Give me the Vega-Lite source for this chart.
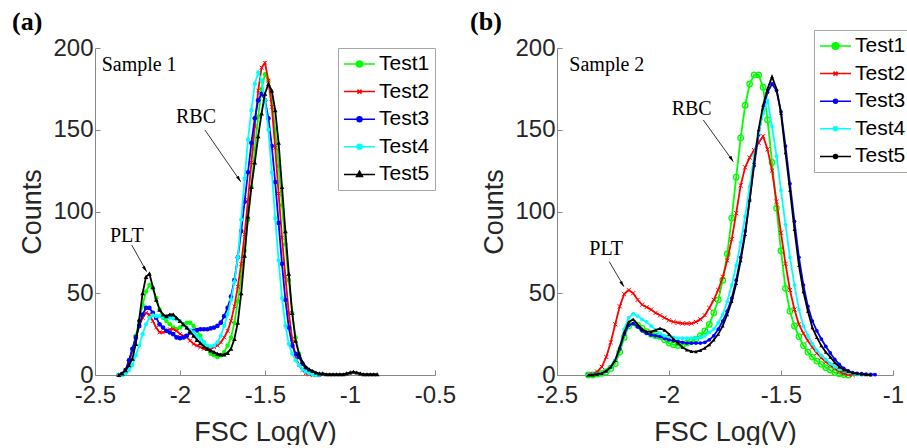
{
"$schema": "https://vega.github.io/schema/vega-lite/v6.json",
"background": "white",
"padding": {"left": 12, "top": 9, "right": 0, "bottom": 0},
"config": {
  "font": "Liberation Sans",
  "view": {"stroke": null},
  "axis": {"grid": false, "domainColor": "#888888", "tickColor": "#888888", "tickSize": -5, "domainWidth": 1, "tickWidth": 1, "labelFont": "Liberation Sans", "labelFontSize": 24, "labelColor": "#262626", "labelPadding": 13, "titleFont": "Liberation Sans", "titleFontSize": 27, "titleFontWeight": "normal", "titleColor": "#262626", "labelOverlap": false},
  "axisY": {"labelPadding": 7, "titlePadding": 6},
  "axisX": {"titlePadding": 12, "labelFlush": false}
},
"resolve": {"scale": {"color": "independent", "x": "independent", "y": "independent"}, "legend": {"color": "independent"}},
"datasets": {
"a": [
{"s":"Test1","x":-2.36,"y":0},{"s":"Test1","x":-2.34,"y":0.5},{"s":"Test1","x":-2.32,"y":2},{"s":"Test1","x":-2.30,"y":7},{"s":"Test1","x":-2.28,"y":15},{"s":"Test1","x":-2.26,"y":24},{"s":"Test1","x":-2.24,"y":33},{"s":"Test1","x":-2.22,"y":43},{"s":"Test1","x":-2.20,"y":51},{"s":"Test1","x":-2.18,"y":55},{"s":"Test1","x":-2.16,"y":53},{"s":"Test1","x":-2.14,"y":47},{"s":"Test1","x":-2.12,"y":40},{"s":"Test1","x":-2.10,"y":35},{"s":"Test1","x":-2.08,"y":33},{"s":"Test1","x":-2.06,"y":31},{"s":"Test1","x":-2.04,"y":29},{"s":"Test1","x":-2.02,"y":28},{"s":"Test1","x":-2.00,"y":29},{"s":"Test1","x":-1.98,"y":31},{"s":"Test1","x":-1.96,"y":32},{"s":"Test1","x":-1.94,"y":32},{"s":"Test1","x":-1.92,"y":30},{"s":"Test1","x":-1.90,"y":27},{"s":"Test1","x":-1.88,"y":24},{"s":"Test1","x":-1.86,"y":20},{"s":"Test1","x":-1.84,"y":16},{"s":"Test1","x":-1.82,"y":13},{"s":"Test1","x":-1.80,"y":12},{"s":"Test1","x":-1.78,"y":11},{"s":"Test1","x":-1.76,"y":12},{"s":"Test1","x":-1.74,"y":14},{"s":"Test1","x":-1.72,"y":18},{"s":"Test1","x":-1.70,"y":23},{"s":"Test1","x":-1.68,"y":32},{"s":"Test1","x":-1.66,"y":45},{"s":"Test1","x":-1.64,"y":60},{"s":"Test1","x":-1.62,"y":76},{"s":"Test1","x":-1.60,"y":95},{"s":"Test1","x":-1.58,"y":115},{"s":"Test1","x":-1.56,"y":138},{"s":"Test1","x":-1.54,"y":158},{"s":"Test1","x":-1.52,"y":175},{"s":"Test1","x":-1.50,"y":184},{"s":"Test1","x":-1.48,"y":180},{"s":"Test1","x":-1.46,"y":168},{"s":"Test1","x":-1.44,"y":150},{"s":"Test1","x":-1.42,"y":128},{"s":"Test1","x":-1.40,"y":104},{"s":"Test1","x":-1.38,"y":80},{"s":"Test1","x":-1.36,"y":58},{"s":"Test1","x":-1.34,"y":38},{"s":"Test1","x":-1.32,"y":23},{"s":"Test1","x":-1.30,"y":13},{"s":"Test1","x":-1.28,"y":7},{"s":"Test1","x":-1.26,"y":3.5},{"s":"Test1","x":-1.24,"y":1.5},{"s":"Test1","x":-1.22,"y":0.5},{"s":"Test1","x":-1.20,"y":0},
{"s":"Test2","x":-2.36,"y":0},{"s":"Test2","x":-2.34,"y":0.5},{"s":"Test2","x":-2.32,"y":3},{"s":"Test2","x":-2.30,"y":8},{"s":"Test2","x":-2.28,"y":15},{"s":"Test2","x":-2.26,"y":23},{"s":"Test2","x":-2.24,"y":30},{"s":"Test2","x":-2.22,"y":35},{"s":"Test2","x":-2.20,"y":38},{"s":"Test2","x":-2.18,"y":37},{"s":"Test2","x":-2.16,"y":33},{"s":"Test2","x":-2.14,"y":29},{"s":"Test2","x":-2.12,"y":26},{"s":"Test2","x":-2.10,"y":26},{"s":"Test2","x":-2.08,"y":27},{"s":"Test2","x":-2.06,"y":28},{"s":"Test2","x":-2.04,"y":28},{"s":"Test2","x":-2.02,"y":27},{"s":"Test2","x":-2.00,"y":25},{"s":"Test2","x":-1.98,"y":24},{"s":"Test2","x":-1.96,"y":23},{"s":"Test2","x":-1.94,"y":21},{"s":"Test2","x":-1.92,"y":19},{"s":"Test2","x":-1.90,"y":18},{"s":"Test2","x":-1.88,"y":17},{"s":"Test2","x":-1.86,"y":16},{"s":"Test2","x":-1.84,"y":16},{"s":"Test2","x":-1.82,"y":16},{"s":"Test2","x":-1.80,"y":17},{"s":"Test2","x":-1.78,"y":18},{"s":"Test2","x":-1.76,"y":20},{"s":"Test2","x":-1.74,"y":23},{"s":"Test2","x":-1.72,"y":27},{"s":"Test2","x":-1.70,"y":33},{"s":"Test2","x":-1.68,"y":42},{"s":"Test2","x":-1.66,"y":54},{"s":"Test2","x":-1.64,"y":68},{"s":"Test2","x":-1.62,"y":86},{"s":"Test2","x":-1.60,"y":107},{"s":"Test2","x":-1.58,"y":130},{"s":"Test2","x":-1.56,"y":152},{"s":"Test2","x":-1.54,"y":174},{"s":"Test2","x":-1.52,"y":188},{"s":"Test2","x":-1.50,"y":191},{"s":"Test2","x":-1.48,"y":180},{"s":"Test2","x":-1.46,"y":164},{"s":"Test2","x":-1.44,"y":139},{"s":"Test2","x":-1.42,"y":111},{"s":"Test2","x":-1.40,"y":84},{"s":"Test2","x":-1.38,"y":60},{"s":"Test2","x":-1.36,"y":38},{"s":"Test2","x":-1.34,"y":22},{"s":"Test2","x":-1.32,"y":11},{"s":"Test2","x":-1.30,"y":6},{"s":"Test2","x":-1.28,"y":3},{"s":"Test2","x":-1.26,"y":1},{"s":"Test2","x":-1.24,"y":0.3},{"s":"Test2","x":-1.22,"y":0},
{"s":"Test3","x":-2.36,"y":0},{"s":"Test3","x":-2.34,"y":0.5},{"s":"Test3","x":-2.32,"y":3},{"s":"Test3","x":-2.30,"y":9},{"s":"Test3","x":-2.28,"y":16},{"s":"Test3","x":-2.26,"y":23},{"s":"Test3","x":-2.24,"y":30},{"s":"Test3","x":-2.22,"y":37},{"s":"Test3","x":-2.20,"y":41},{"s":"Test3","x":-2.18,"y":41},{"s":"Test3","x":-2.16,"y":38},{"s":"Test3","x":-2.14,"y":35},{"s":"Test3","x":-2.12,"y":31},{"s":"Test3","x":-2.10,"y":29},{"s":"Test3","x":-2.08,"y":27},{"s":"Test3","x":-2.06,"y":26},{"s":"Test3","x":-2.04,"y":25},{"s":"Test3","x":-2.02,"y":23},{"s":"Test3","x":-2.00,"y":22.5},{"s":"Test3","x":-1.98,"y":23},{"s":"Test3","x":-1.96,"y":24},{"s":"Test3","x":-1.94,"y":26},{"s":"Test3","x":-1.92,"y":27},{"s":"Test3","x":-1.90,"y":27.5},{"s":"Test3","x":-1.88,"y":28},{"s":"Test3","x":-1.86,"y":28},{"s":"Test3","x":-1.84,"y":28},{"s":"Test3","x":-1.82,"y":28.5},{"s":"Test3","x":-1.80,"y":29},{"s":"Test3","x":-1.78,"y":30},{"s":"Test3","x":-1.76,"y":32},{"s":"Test3","x":-1.74,"y":36},{"s":"Test3","x":-1.72,"y":41},{"s":"Test3","x":-1.70,"y":48},{"s":"Test3","x":-1.68,"y":58},{"s":"Test3","x":-1.66,"y":72},{"s":"Test3","x":-1.64,"y":88},{"s":"Test3","x":-1.62,"y":106},{"s":"Test3","x":-1.60,"y":124},{"s":"Test3","x":-1.58,"y":142},{"s":"Test3","x":-1.56,"y":157},{"s":"Test3","x":-1.54,"y":168},{"s":"Test3","x":-1.52,"y":172},{"s":"Test3","x":-1.50,"y":168},{"s":"Test3","x":-1.48,"y":157},{"s":"Test3","x":-1.46,"y":140},{"s":"Test3","x":-1.44,"y":118},{"s":"Test3","x":-1.42,"y":93},{"s":"Test3","x":-1.40,"y":68},{"s":"Test3","x":-1.38,"y":46},{"s":"Test3","x":-1.36,"y":29},{"s":"Test3","x":-1.34,"y":18},{"s":"Test3","x":-1.32,"y":13},{"s":"Test3","x":-1.30,"y":11},{"s":"Test3","x":-1.28,"y":7},{"s":"Test3","x":-1.26,"y":4},{"s":"Test3","x":-1.24,"y":2},{"s":"Test3","x":-1.22,"y":1},{"s":"Test3","x":-1.20,"y":0.5},{"s":"Test3","x":-1.18,"y":0},
{"s":"Test4","x":-2.36,"y":0},{"s":"Test4","x":-2.34,"y":0},{"s":"Test4","x":-2.32,"y":1},{"s":"Test4","x":-2.30,"y":3},{"s":"Test4","x":-2.28,"y":6},{"s":"Test4","x":-2.26,"y":12},{"s":"Test4","x":-2.24,"y":18},{"s":"Test4","x":-2.22,"y":25},{"s":"Test4","x":-2.20,"y":31},{"s":"Test4","x":-2.18,"y":35},{"s":"Test4","x":-2.16,"y":36.5},{"s":"Test4","x":-2.14,"y":36},{"s":"Test4","x":-2.12,"y":36},{"s":"Test4","x":-2.10,"y":35.5},{"s":"Test4","x":-2.08,"y":35},{"s":"Test4","x":-2.06,"y":35},{"s":"Test4","x":-2.04,"y":34.5},{"s":"Test4","x":-2.02,"y":34},{"s":"Test4","x":-2.00,"y":33},{"s":"Test4","x":-1.98,"y":31},{"s":"Test4","x":-1.96,"y":29},{"s":"Test4","x":-1.94,"y":27.5},{"s":"Test4","x":-1.92,"y":26},{"s":"Test4","x":-1.90,"y":24},{"s":"Test4","x":-1.88,"y":22},{"s":"Test4","x":-1.86,"y":20},{"s":"Test4","x":-1.84,"y":18},{"s":"Test4","x":-1.82,"y":17.5},{"s":"Test4","x":-1.80,"y":18},{"s":"Test4","x":-1.78,"y":20},{"s":"Test4","x":-1.76,"y":24},{"s":"Test4","x":-1.74,"y":30},{"s":"Test4","x":-1.72,"y":37},{"s":"Test4","x":-1.70,"y":46},{"s":"Test4","x":-1.68,"y":57},{"s":"Test4","x":-1.66,"y":72},{"s":"Test4","x":-1.64,"y":95},{"s":"Test4","x":-1.62,"y":120},{"s":"Test4","x":-1.60,"y":144},{"s":"Test4","x":-1.58,"y":162},{"s":"Test4","x":-1.56,"y":178},{"s":"Test4","x":-1.54,"y":185},{"s":"Test4","x":-1.52,"y":180},{"s":"Test4","x":-1.50,"y":168},{"s":"Test4","x":-1.48,"y":150},{"s":"Test4","x":-1.46,"y":124},{"s":"Test4","x":-1.44,"y":96},{"s":"Test4","x":-1.42,"y":70},{"s":"Test4","x":-1.40,"y":47},{"s":"Test4","x":-1.38,"y":30},{"s":"Test4","x":-1.36,"y":19},{"s":"Test4","x":-1.34,"y":13},{"s":"Test4","x":-1.32,"y":9},{"s":"Test4","x":-1.30,"y":6},{"s":"Test4","x":-1.28,"y":3.5},{"s":"Test4","x":-1.26,"y":2},{"s":"Test4","x":-1.24,"y":1},{"s":"Test4","x":-1.22,"y":0.5},{"s":"Test4","x":-1.20,"y":0},{"s":"Test4","x":-1.18,"y":0},
{"s":"Test5","x":-2.36,"y":0},{"s":"Test5","x":-2.34,"y":1},{"s":"Test5","x":-2.32,"y":3},{"s":"Test5","x":-2.30,"y":6},{"s":"Test5","x":-2.28,"y":10},{"s":"Test5","x":-2.26,"y":19},{"s":"Test5","x":-2.24,"y":34},{"s":"Test5","x":-2.22,"y":50},{"s":"Test5","x":-2.20,"y":60},{"s":"Test5","x":-2.18,"y":62},{"s":"Test5","x":-2.16,"y":54},{"s":"Test5","x":-2.14,"y":46},{"s":"Test5","x":-2.12,"y":40},{"s":"Test5","x":-2.10,"y":37},{"s":"Test5","x":-2.08,"y":36},{"s":"Test5","x":-2.06,"y":37},{"s":"Test5","x":-2.04,"y":37},{"s":"Test5","x":-2.02,"y":35},{"s":"Test5","x":-2.00,"y":33},{"s":"Test5","x":-1.98,"y":31},{"s":"Test5","x":-1.96,"y":29},{"s":"Test5","x":-1.94,"y":26.5},{"s":"Test5","x":-1.92,"y":24},{"s":"Test5","x":-1.90,"y":21.5},{"s":"Test5","x":-1.88,"y":19.5},{"s":"Test5","x":-1.86,"y":17.5},{"s":"Test5","x":-1.84,"y":16},{"s":"Test5","x":-1.82,"y":15},{"s":"Test5","x":-1.80,"y":14},{"s":"Test5","x":-1.78,"y":13},{"s":"Test5","x":-1.76,"y":12.5},{"s":"Test5","x":-1.74,"y":12.5},{"s":"Test5","x":-1.72,"y":13.5},{"s":"Test5","x":-1.70,"y":16},{"s":"Test5","x":-1.68,"y":22},{"s":"Test5","x":-1.66,"y":32},{"s":"Test5","x":-1.64,"y":50},{"s":"Test5","x":-1.62,"y":73},{"s":"Test5","x":-1.60,"y":97},{"s":"Test5","x":-1.58,"y":115},{"s":"Test5","x":-1.56,"y":130},{"s":"Test5","x":-1.54,"y":146},{"s":"Test5","x":-1.52,"y":160},{"s":"Test5","x":-1.50,"y":172},{"s":"Test5","x":-1.48,"y":178},{"s":"Test5","x":-1.46,"y":174},{"s":"Test5","x":-1.44,"y":162},{"s":"Test5","x":-1.42,"y":142},{"s":"Test5","x":-1.40,"y":115},{"s":"Test5","x":-1.38,"y":88},{"s":"Test5","x":-1.36,"y":62},{"s":"Test5","x":-1.34,"y":38},{"s":"Test5","x":-1.32,"y":21},{"s":"Test5","x":-1.30,"y":13},{"s":"Test5","x":-1.28,"y":8},{"s":"Test5","x":-1.26,"y":5},{"s":"Test5","x":-1.24,"y":3.5},{"s":"Test5","x":-1.22,"y":2.5},{"s":"Test5","x":-1.20,"y":1.5},{"s":"Test5","x":-1.18,"y":1},{"s":"Test5","x":-1.16,"y":1},{"s":"Test5","x":-1.14,"y":0.5},{"s":"Test5","x":-1.12,"y":0.5},{"s":"Test5","x":-1.10,"y":0.5},{"s":"Test5","x":-1.08,"y":0.5},{"s":"Test5","x":-1.06,"y":0.5},{"s":"Test5","x":-1.04,"y":0.5},{"s":"Test5","x":-1.02,"y":1},{"s":"Test5","x":-1.00,"y":1.5},{"s":"Test5","x":-0.98,"y":2},{"s":"Test5","x":-0.96,"y":1.5},{"s":"Test5","x":-0.94,"y":1},{"s":"Test5","x":-0.92,"y":0.5},{"s":"Test5","x":-0.90,"y":0.5},{"s":"Test5","x":-0.88,"y":0.5},{"s":"Test5","x":-0.86,"y":0.5},{"s":"Test5","x":-0.84,"y":0.5}
],
"b": [
{"s":"Test1","x":-2.36,"y":0},{"s":"Test1","x":-2.34,"y":0},{"s":"Test1","x":-2.32,"y":0.5},{"s":"Test1","x":-2.30,"y":1},{"s":"Test1","x":-2.28,"y":2},{"s":"Test1","x":-2.26,"y":4},{"s":"Test1","x":-2.24,"y":7},{"s":"Test1","x":-2.22,"y":14},{"s":"Test1","x":-2.20,"y":23},{"s":"Test1","x":-2.18,"y":30},{"s":"Test1","x":-2.16,"y":32},{"s":"Test1","x":-2.14,"y":30.5},{"s":"Test1","x":-2.12,"y":28.5},{"s":"Test1","x":-2.10,"y":26.5},{"s":"Test1","x":-2.08,"y":25},{"s":"Test1","x":-2.06,"y":24},{"s":"Test1","x":-2.04,"y":23.5},{"s":"Test1","x":-2.02,"y":21.5},{"s":"Test1","x":-2.00,"y":19.5},{"s":"Test1","x":-1.98,"y":18.5},{"s":"Test1","x":-1.96,"y":18},{"s":"Test1","x":-1.94,"y":18.5},{"s":"Test1","x":-1.92,"y":19.5},{"s":"Test1","x":-1.90,"y":20.5},{"s":"Test1","x":-1.88,"y":22},{"s":"Test1","x":-1.86,"y":24},{"s":"Test1","x":-1.84,"y":27},{"s":"Test1","x":-1.82,"y":31},{"s":"Test1","x":-1.80,"y":38},{"s":"Test1","x":-1.78,"y":46},{"s":"Test1","x":-1.76,"y":58},{"s":"Test1","x":-1.74,"y":74},{"s":"Test1","x":-1.72,"y":96},{"s":"Test1","x":-1.70,"y":121},{"s":"Test1","x":-1.68,"y":145},{"s":"Test1","x":-1.66,"y":165},{"s":"Test1","x":-1.64,"y":178},{"s":"Test1","x":-1.62,"y":183.5},{"s":"Test1","x":-1.60,"y":183.5},{"s":"Test1","x":-1.58,"y":176},{"s":"Test1","x":-1.56,"y":156},{"s":"Test1","x":-1.54,"y":130},{"s":"Test1","x":-1.52,"y":102},{"s":"Test1","x":-1.50,"y":76},{"s":"Test1","x":-1.48,"y":53},{"s":"Test1","x":-1.46,"y":39},{"s":"Test1","x":-1.44,"y":30},{"s":"Test1","x":-1.42,"y":23.5},{"s":"Test1","x":-1.40,"y":18},{"s":"Test1","x":-1.38,"y":14},{"s":"Test1","x":-1.36,"y":11},{"s":"Test1","x":-1.34,"y":8.5},{"s":"Test1","x":-1.32,"y":6.5},{"s":"Test1","x":-1.30,"y":4.5},{"s":"Test1","x":-1.28,"y":3},{"s":"Test1","x":-1.26,"y":1.5},{"s":"Test1","x":-1.24,"y":0.8},{"s":"Test1","x":-1.22,"y":0.3},{"s":"Test1","x":-1.20,"y":0},
{"s":"Test2","x":-2.36,"y":0},{"s":"Test2","x":-2.34,"y":0.5},{"s":"Test2","x":-2.32,"y":2},{"s":"Test2","x":-2.30,"y":5},{"s":"Test2","x":-2.28,"y":11},{"s":"Test2","x":-2.26,"y":20},{"s":"Test2","x":-2.24,"y":31},{"s":"Test2","x":-2.22,"y":42},{"s":"Test2","x":-2.20,"y":49.5},{"s":"Test2","x":-2.18,"y":52},{"s":"Test2","x":-2.16,"y":50},{"s":"Test2","x":-2.14,"y":46},{"s":"Test2","x":-2.12,"y":43},{"s":"Test2","x":-2.10,"y":41.5},{"s":"Test2","x":-2.08,"y":40},{"s":"Test2","x":-2.06,"y":38},{"s":"Test2","x":-2.04,"y":36.5},{"s":"Test2","x":-2.02,"y":35},{"s":"Test2","x":-2.00,"y":33.5},{"s":"Test2","x":-1.98,"y":32.5},{"s":"Test2","x":-1.96,"y":32},{"s":"Test2","x":-1.94,"y":31.5},{"s":"Test2","x":-1.92,"y":31.5},{"s":"Test2","x":-1.90,"y":31.5},{"s":"Test2","x":-1.88,"y":32.5},{"s":"Test2","x":-1.86,"y":34},{"s":"Test2","x":-1.84,"y":36.5},{"s":"Test2","x":-1.82,"y":41},{"s":"Test2","x":-1.80,"y":46},{"s":"Test2","x":-1.78,"y":52},{"s":"Test2","x":-1.76,"y":60},{"s":"Test2","x":-1.74,"y":70},{"s":"Test2","x":-1.72,"y":83},{"s":"Test2","x":-1.70,"y":99},{"s":"Test2","x":-1.68,"y":116},{"s":"Test2","x":-1.66,"y":127},{"s":"Test2","x":-1.64,"y":133},{"s":"Test2","x":-1.62,"y":137.5},{"s":"Test2","x":-1.60,"y":142},{"s":"Test2","x":-1.58,"y":146},{"s":"Test2","x":-1.56,"y":138},{"s":"Test2","x":-1.54,"y":125},{"s":"Test2","x":-1.52,"y":106},{"s":"Test2","x":-1.50,"y":87},{"s":"Test2","x":-1.48,"y":68},{"s":"Test2","x":-1.46,"y":52},{"s":"Test2","x":-1.44,"y":40},{"s":"Test2","x":-1.42,"y":31},{"s":"Test2","x":-1.40,"y":25.5},{"s":"Test2","x":-1.38,"y":21},{"s":"Test2","x":-1.36,"y":17},{"s":"Test2","x":-1.34,"y":13.3},{"s":"Test2","x":-1.32,"y":10.5},{"s":"Test2","x":-1.30,"y":8},{"s":"Test2","x":-1.28,"y":6},{"s":"Test2","x":-1.26,"y":4},{"s":"Test2","x":-1.24,"y":2.2},{"s":"Test2","x":-1.22,"y":1},{"s":"Test2","x":-1.20,"y":0.3},{"s":"Test2","x":-1.18,"y":0},
{"s":"Test3","x":-2.36,"y":0},{"s":"Test3","x":-2.34,"y":0},{"s":"Test3","x":-2.32,"y":0.5},{"s":"Test3","x":-2.30,"y":1},{"s":"Test3","x":-2.28,"y":2.5},{"s":"Test3","x":-2.26,"y":5},{"s":"Test3","x":-2.24,"y":9},{"s":"Test3","x":-2.22,"y":16},{"s":"Test3","x":-2.20,"y":25},{"s":"Test3","x":-2.18,"y":30.5},{"s":"Test3","x":-2.16,"y":31.5},{"s":"Test3","x":-2.14,"y":29.5},{"s":"Test3","x":-2.12,"y":27},{"s":"Test3","x":-2.10,"y":25.5},{"s":"Test3","x":-2.08,"y":24.5},{"s":"Test3","x":-2.06,"y":24},{"s":"Test3","x":-2.04,"y":23.5},{"s":"Test3","x":-2.02,"y":22.5},{"s":"Test3","x":-2.00,"y":21.5},{"s":"Test3","x":-1.98,"y":21},{"s":"Test3","x":-1.96,"y":20.5},{"s":"Test3","x":-1.94,"y":20},{"s":"Test3","x":-1.92,"y":19.5},{"s":"Test3","x":-1.90,"y":19.5},{"s":"Test3","x":-1.88,"y":19.5},{"s":"Test3","x":-1.86,"y":19.5},{"s":"Test3","x":-1.84,"y":20},{"s":"Test3","x":-1.82,"y":21.5},{"s":"Test3","x":-1.80,"y":24},{"s":"Test3","x":-1.78,"y":28},{"s":"Test3","x":-1.76,"y":33},{"s":"Test3","x":-1.74,"y":39},{"s":"Test3","x":-1.72,"y":47},{"s":"Test3","x":-1.70,"y":58},{"s":"Test3","x":-1.68,"y":72},{"s":"Test3","x":-1.66,"y":88},{"s":"Test3","x":-1.64,"y":107},{"s":"Test3","x":-1.62,"y":128},{"s":"Test3","x":-1.60,"y":147},{"s":"Test3","x":-1.58,"y":162},{"s":"Test3","x":-1.56,"y":173},{"s":"Test3","x":-1.54,"y":178},{"s":"Test3","x":-1.52,"y":174},{"s":"Test3","x":-1.50,"y":161},{"s":"Test3","x":-1.48,"y":140},{"s":"Test3","x":-1.46,"y":117},{"s":"Test3","x":-1.44,"y":94},{"s":"Test3","x":-1.42,"y":72},{"s":"Test3","x":-1.40,"y":55},{"s":"Test3","x":-1.38,"y":42},{"s":"Test3","x":-1.36,"y":33},{"s":"Test3","x":-1.34,"y":27},{"s":"Test3","x":-1.32,"y":22},{"s":"Test3","x":-1.30,"y":17.5},{"s":"Test3","x":-1.28,"y":13.5},{"s":"Test3","x":-1.26,"y":9.5},{"s":"Test3","x":-1.24,"y":6.5},{"s":"Test3","x":-1.22,"y":4},{"s":"Test3","x":-1.20,"y":2.5},{"s":"Test3","x":-1.18,"y":1.5},{"s":"Test3","x":-1.16,"y":1},{"s":"Test3","x":-1.14,"y":0.8},{"s":"Test3","x":-1.12,"y":0.5},{"s":"Test3","x":-1.10,"y":0.4},{"s":"Test3","x":-1.08,"y":0.3},
{"s":"Test4","x":-2.36,"y":0},{"s":"Test4","x":-2.34,"y":0},{"s":"Test4","x":-2.32,"y":0.5},{"s":"Test4","x":-2.30,"y":1},{"s":"Test4","x":-2.28,"y":2.5},{"s":"Test4","x":-2.26,"y":5},{"s":"Test4","x":-2.24,"y":9},{"s":"Test4","x":-2.22,"y":17},{"s":"Test4","x":-2.20,"y":28},{"s":"Test4","x":-2.18,"y":35},{"s":"Test4","x":-2.16,"y":37.5},{"s":"Test4","x":-2.14,"y":36},{"s":"Test4","x":-2.12,"y":34},{"s":"Test4","x":-2.10,"y":32.5},{"s":"Test4","x":-2.08,"y":30},{"s":"Test4","x":-2.06,"y":27.5},{"s":"Test4","x":-2.04,"y":25.5},{"s":"Test4","x":-2.02,"y":24},{"s":"Test4","x":-2.00,"y":23.5},{"s":"Test4","x":-1.98,"y":23},{"s":"Test4","x":-1.96,"y":22.5},{"s":"Test4","x":-1.94,"y":22.5},{"s":"Test4","x":-1.92,"y":22.5},{"s":"Test4","x":-1.90,"y":22.5},{"s":"Test4","x":-1.88,"y":22.5},{"s":"Test4","x":-1.86,"y":23},{"s":"Test4","x":-1.84,"y":24},{"s":"Test4","x":-1.82,"y":26},{"s":"Test4","x":-1.80,"y":28},{"s":"Test4","x":-1.78,"y":32},{"s":"Test4","x":-1.76,"y":37},{"s":"Test4","x":-1.74,"y":45},{"s":"Test4","x":-1.72,"y":55},{"s":"Test4","x":-1.70,"y":67},{"s":"Test4","x":-1.68,"y":81},{"s":"Test4","x":-1.66,"y":97},{"s":"Test4","x":-1.64,"y":115},{"s":"Test4","x":-1.62,"y":134},{"s":"Test4","x":-1.60,"y":148},{"s":"Test4","x":-1.58,"y":160},{"s":"Test4","x":-1.56,"y":168},{"s":"Test4","x":-1.54,"y":152},{"s":"Test4","x":-1.52,"y":134},{"s":"Test4","x":-1.50,"y":113},{"s":"Test4","x":-1.48,"y":92},{"s":"Test4","x":-1.46,"y":72},{"s":"Test4","x":-1.44,"y":55},{"s":"Test4","x":-1.42,"y":40},{"s":"Test4","x":-1.40,"y":30},{"s":"Test4","x":-1.38,"y":24},{"s":"Test4","x":-1.36,"y":19},{"s":"Test4","x":-1.34,"y":15},{"s":"Test4","x":-1.32,"y":12},{"s":"Test4","x":-1.30,"y":9.5},{"s":"Test4","x":-1.28,"y":7},{"s":"Test4","x":-1.26,"y":5},{"s":"Test4","x":-1.24,"y":3.5},{"s":"Test4","x":-1.22,"y":2.5},{"s":"Test4","x":-1.20,"y":1.5},{"s":"Test4","x":-1.18,"y":0.8},{"s":"Test4","x":-1.16,"y":0.3},{"s":"Test4","x":-1.14,"y":0},
{"s":"Test5","x":-2.36,"y":0},{"s":"Test5","x":-2.34,"y":0},{"s":"Test5","x":-2.32,"y":0.5},{"s":"Test5","x":-2.30,"y":1},{"s":"Test5","x":-2.28,"y":2.5},{"s":"Test5","x":-2.26,"y":5},{"s":"Test5","x":-2.24,"y":9},{"s":"Test5","x":-2.22,"y":17},{"s":"Test5","x":-2.20,"y":26},{"s":"Test5","x":-2.18,"y":32.5},{"s":"Test5","x":-2.16,"y":34},{"s":"Test5","x":-2.14,"y":31},{"s":"Test5","x":-2.12,"y":28},{"s":"Test5","x":-2.10,"y":26.5},{"s":"Test5","x":-2.08,"y":26.5},{"s":"Test5","x":-2.06,"y":27.5},{"s":"Test5","x":-2.04,"y":28.5},{"s":"Test5","x":-2.02,"y":27.5},{"s":"Test5","x":-2.00,"y":25},{"s":"Test5","x":-1.98,"y":22},{"s":"Test5","x":-1.96,"y":19.5},{"s":"Test5","x":-1.94,"y":17},{"s":"Test5","x":-1.92,"y":15.3},{"s":"Test5","x":-1.90,"y":14.5},{"s":"Test5","x":-1.88,"y":14.3},{"s":"Test5","x":-1.86,"y":15},{"s":"Test5","x":-1.84,"y":16.5},{"s":"Test5","x":-1.82,"y":18.5},{"s":"Test5","x":-1.80,"y":21.5},{"s":"Test5","x":-1.78,"y":25},{"s":"Test5","x":-1.76,"y":30},{"s":"Test5","x":-1.74,"y":37},{"s":"Test5","x":-1.72,"y":45},{"s":"Test5","x":-1.70,"y":56},{"s":"Test5","x":-1.68,"y":70},{"s":"Test5","x":-1.66,"y":86},{"s":"Test5","x":-1.64,"y":107},{"s":"Test5","x":-1.62,"y":130},{"s":"Test5","x":-1.60,"y":150},{"s":"Test5","x":-1.58,"y":165},{"s":"Test5","x":-1.56,"y":175},{"s":"Test5","x":-1.54,"y":182.5},{"s":"Test5","x":-1.52,"y":175},{"s":"Test5","x":-1.50,"y":160},{"s":"Test5","x":-1.48,"y":136},{"s":"Test5","x":-1.46,"y":113},{"s":"Test5","x":-1.44,"y":89},{"s":"Test5","x":-1.42,"y":67},{"s":"Test5","x":-1.40,"y":51},{"s":"Test5","x":-1.38,"y":39},{"s":"Test5","x":-1.36,"y":29},{"s":"Test5","x":-1.34,"y":23},{"s":"Test5","x":-1.32,"y":18},{"s":"Test5","x":-1.30,"y":14},{"s":"Test5","x":-1.28,"y":11},{"s":"Test5","x":-1.26,"y":7.5},{"s":"Test5","x":-1.24,"y":5},{"s":"Test5","x":-1.22,"y":3.2},{"s":"Test5","x":-1.20,"y":2.2},{"s":"Test5","x":-1.18,"y":1.3},{"s":"Test5","x":-1.16,"y":0.8},{"s":"Test5","x":-1.14,"y":0.5},{"s":"Test5","x":-1.12,"y":0.2},{"s":"Test5","x":-1.10,"y":0}
]
},
"spacing": 122,
"bounds": "flush",
"hconcat": [
{
  "width": 340, "height": 327,
  "encoding": {
    "x": {"field": "x", "type": "quantitative", "scale": {"domain": [-2.5, -0.5], "nice": false, "zero": false}, "axis": {"title": "FSC Log(V)", "values": [-2.5, -2, -1.5, -1, -0.5], "labelExpr": "'' + datum.value"}},
    "y": {"field": "y", "type": "quantitative", "scale": {"domain": [0, 200], "nice": false}, "axis": {"title": "Counts", "values": [0, 50, 100, 150, 200]}},
    "color": {"field": "s", "type": "nominal",
      "scale": {"domain": ["Test1", "Test2", "Test3", "Test4", "Test5"], "range": ["#00ff00", "#ff0000", "#0000ff", "#00ffff", "#000000"]},
      "legend": {"title": null, "orient": "top-right", "offset": 0, "padding": 5, "strokeColor": "#a6a6a6", "fillColor": "white",
        "symbolSize": 400, "symbolStrokeWidth": 1.5, "rowPadding": 6.6, "labelOffset": 14, "labelFontSize": 21, "labelFont": "Liberation Sans", "labelColor": "black",
        "encode": {"symbols": {"update": {
          "shape": {"signal": "datum.value == 'Test1' ? 'M-1,0H2.1M0.25,0A0.3,0.3 0 1 1 0.85,0A0.3,0.3 0 1 1 0.25,0Z' : datum.value == 'Test2' ? 'M-1,0H2.1M0.35,-0.2L0.75,0.2M0.35,0.2L0.75,-0.2' : datum.value == 'Test5' ? 'M-1,0H2.1M0.55,-0.32L0.85,0.2L0.25,0.2Z' : 'M-1,0H2.1M0.3,0A0.25,0.25 0 1 1 0.8,0A0.25,0.25 0 1 1 0.3,0Z'"},
          "size": {"value": 400},
          "strokeWidth": {"value": 1.5},
          "opacity": {"value": 1},
          "stroke": {"signal": "datum.value == 'Test1' ? '#00ff00' : datum.value == 'Test2' ? '#ff0000' : datum.value == 'Test3' ? '#0000ff' : datum.value == 'Test4' ? '#00ffff' : '#000000'"},
          "fill": {"signal": "datum.value == 'Test1' ? '#00ff00' : datum.value == 'Test2' ? '#ff0000' : datum.value == 'Test3' ? '#0000ff' : datum.value == 'Test4' ? '#00ffff' : '#000000'"}
        }}}
      }
    }
  },
  "layer": [
    {"data": {"name": "a"}, "transform": [{"filter": "datum.s == 'Test1'"}], "mark": {"type": "line", "strokeWidth": 1.8, "point": {"filled": true, "shape": "circle", "size": 20}}},
    {"data": {"name": "a"}, "transform": [{"filter": "datum.s == 'Test2'"}], "mark": {"type": "line", "strokeWidth": 1.8, "point": {"filled": false, "shape": "M-1,-1L1,1M-1,1L1,-1", "size": 14, "strokeWidth": 1}}},
    {"data": {"name": "a"}, "transform": [{"filter": "datum.s == 'Test3'"}], "mark": {"type": "line", "strokeWidth": 1.8, "point": {"filled": true, "shape": "circle", "size": 22}}},
    {"data": {"name": "a"}, "transform": [{"filter": "datum.s == 'Test4'"}], "mark": {"type": "line", "strokeWidth": 1.8, "point": {"filled": true, "shape": "circle", "size": 18}}},
    {"data": {"name": "a"}, "transform": [{"filter": "datum.s == 'Test5'"}], "mark": {"type": "line", "strokeWidth": 1.8, "point": {"filled": true, "shape": "triangle-up", "size": 22}}},
    {"data": {"values": [{"t": "Sample 1", "x": -2.461, "y": 189.6}, {"t": "RBC", "x": -2.0235, "y": 157.8}, {"t": "PLT", "x": -2.412, "y": 84.8}]},
     "mark": {"type": "text", "align": "left", "baseline": "middle", "font": "Liberation Serif", "fontSize": 20},
     "encoding": {"text": {"field": "t"}, "color": {"value": "black"}}},
    {"data": {"values": [{"t": "(a)", "x": -2.988, "y": 211}]},
     "mark": {"type": "text", "align": "left", "baseline": "alphabetic", "font": "Liberation Serif", "fontSize": 26, "fontWeight": "bold"},
     "encoding": {"text": {"field": "t"}, "color": {"value": "black"}}},
    {"data": {"values": [{"x": -1.853, "y": 149.8, "x2": -1.643, "y2": 118.2}, {"x": -2.284, "y": 79.5, "x2": -2.196, "y2": 63.2}]},
     "mark": {"type": "rule", "strokeWidth": 0.8},
     "encoding": {"x2": {"field": "x2"}, "y2": {"field": "y2"}, "color": {"value": "black"}}},
    {"data": {"values": [{"x": -1.643, "y": 118.2}, {"x": -2.196, "y": 63.2}]},
     "mark": {"type": "point", "shape": "M0,0L0.8,3L-0.8,3Z", "size": 16, "filled": true, "angle": 147, "opacity": 1},
     "encoding": {"color": {"value": "black"}}}
  ]
},
{
  "width": 336, "height": 327,
  "encoding": {
    "x": {"field": "x", "type": "quantitative", "scale": {"domain": [-2.5, -1], "nice": false, "zero": false}, "axis": {"title": "FSC Log(V)", "values": [-2.5, -2, -1.5, -1], "labelExpr": "'' + datum.value"}},
    "y": {"field": "y", "type": "quantitative", "scale": {"domain": [0, 200], "nice": false}, "axis": {"title": "Counts", "values": [0, 50, 100, 150, 200]}},
    "color": {"field": "s", "type": "nominal",
      "scale": {"domain": ["Test1", "Test2", "Test3", "Test4", "Test5"], "range": ["#00ff00", "#ff0000", "#0000ff", "#00ffff", "#000000"]},
      "legend": {"title": null, "orient": "top-right", "offset": -18, "padding": 5, "strokeColor": "#a6a6a6", "fillColor": "white",
        "symbolSize": 400, "symbolStrokeWidth": 1.5, "rowPadding": 6.6, "labelOffset": 14, "labelFontSize": 21, "labelFont": "Liberation Sans", "labelColor": "black",
        "encode": {"symbols": {"update": {
          "shape": {"signal": "datum.value == 'Test1' ? 'M-1,0H2.1M0.22,0A0.33,0.33 0 1 1 0.88,0A0.33,0.33 0 1 1 0.22,0Z' : datum.value == 'Test2' ? 'M-1,0H2.1M0.35,-0.2L0.75,0.2M0.35,0.2L0.75,-0.2' : 'M-1,0H2.1M0.35,0A0.2,0.2 0 1 1 0.75,0A0.2,0.2 0 1 1 0.35,0Z'"},
          "size": {"value": 400},
          "strokeWidth": {"value": 1.5},
          "opacity": {"value": 1},
          "stroke": {"signal": "datum.value == 'Test1' ? '#00ff00' : datum.value == 'Test2' ? '#ff0000' : datum.value == 'Test3' ? '#0000ff' : datum.value == 'Test4' ? '#00ffff' : '#000000'"},
          "fill": {"signal": "datum.value == 'Test1' ? 'white' : datum.value == 'Test2' ? '#ff0000' : datum.value == 'Test3' ? '#0000ff' : datum.value == 'Test4' ? '#00ffff' : '#000000'"}
        }}}
      }
    }
  },
  "layer": [
    {"data": {"name": "b"}, "transform": [{"filter": "datum.s == 'Test1'"}], "mark": {"type": "line", "strokeWidth": 1.8, "point": {"filled": false, "shape": "circle", "size": 30, "strokeWidth": 1.3}}},
    {"data": {"name": "b"}, "transform": [{"filter": "datum.s == 'Test2'"}], "mark": {"type": "line", "strokeWidth": 1.8, "point": {"filled": false, "shape": "M-1,-1L1,1M-1,1L1,-1", "size": 18, "strokeWidth": 1}}},
    {"data": {"name": "b"}, "transform": [{"filter": "datum.s == 'Test3'"}], "mark": {"type": "line", "strokeWidth": 1.8, "point": {"filled": true, "shape": "circle", "size": 14}}},
    {"data": {"name": "b"}, "transform": [{"filter": "datum.s == 'Test4'"}], "mark": {"type": "line", "strokeWidth": 1.8, "point": {"filled": true, "shape": "circle", "size": 14}}},
    {"data": {"name": "b"}, "transform": [{"filter": "datum.s == 'Test5'"}], "mark": {"type": "line", "strokeWidth": 1.8, "point": {"filled": true, "shape": "triangle-up", "size": 14}}},
    {"data": {"values": [{"t": "Sample 2", "x": -2.445, "y": 189.6}, {"t": "RBC", "x": -1.988, "y": 162.7}, {"t": "PLT", "x": -2.356, "y": 77.1}]},
     "mark": {"type": "text", "align": "left", "baseline": "middle", "font": "Liberation Serif", "fontSize": 20},
     "encoding": {"text": {"field": "t"}, "color": {"value": "black"}}},
    {"data": {"values": [{"t": "(b)", "x": -2.888, "y": 211}]},
     "mark": {"type": "text", "align": "left", "baseline": "alphabetic", "font": "Liberation Serif", "fontSize": 26, "fontWeight": "bold"},
     "encoding": {"text": {"field": "t"}, "color": {"value": "black"}}},
    {"data": {"values": [{"x": -1.847, "y": 156, "x2": -1.713, "y2": 130.5}, {"x": -2.2665, "y": 69.3, "x2": -2.201, "y2": 54}]},
     "mark": {"type": "rule", "strokeWidth": 0.8},
     "encoding": {"x2": {"field": "x2"}, "y2": {"field": "y2"}, "color": {"value": "black"}}},
    {"data": {"values": [{"x": -1.713, "y": 130.5}, {"x": -2.201, "y": 54}]},
     "mark": {"type": "point", "shape": "M0,0L0.8,3L-0.8,3Z", "size": 16, "filled": true, "angle": 147, "opacity": 1},
     "encoding": {"color": {"value": "black"}}}
  ]
}
]
}
